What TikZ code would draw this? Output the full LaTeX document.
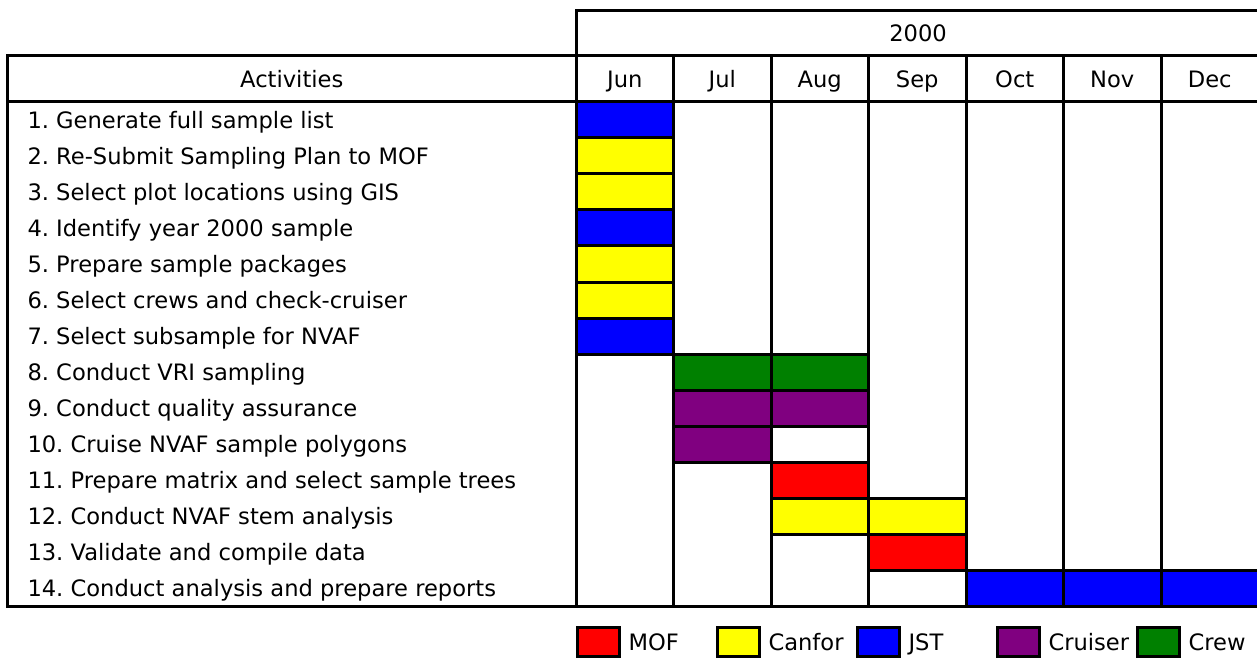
\documentclass[tikz,border=0pt]{standalone}
\usepackage{fontspec}
\setmainfont{DejaVu Sans}
\frenchspacing
\definecolor{cMOF}{RGB}{255,0,0}
\definecolor{cCan}{RGB}{255,255,0}
\definecolor{cJST}{RGB}{0,0,255}
\definecolor{cCru}{RGB}{128,0,128}
\definecolor{cCrew}{RGB}{0,128,0}
\begin{document}
\begin{tikzpicture}[x=1pt,y=-1pt,line width=3pt,
  lbl/.style={font=\fontsize{22.6}{27}\selectfont, inner sep=0pt},
  legbox/.style={draw=black, line width=3pt, minimum width=42.5pt, minimum height=29.5pt, inner sep=0pt}]
\useasboundingbox (0,0) rectangle (1257,660);
\clip (0,0) rectangle (1257,660);
\fill[white] (0,0) rectangle (1257,660);
% column width 97.5, first month column at 576, rows 36 high from 102
\def\cw{97.5}
% --- coloured / bordered cells: row, first col, last col, colour
\foreach \r/\a/\b/\c in {1/0/0/cJST, 2/0/0/cCan, 3/0/0/cCan, 4/0/0/cJST, 5/0/0/cCan, 6/0/0/cCan, 7/0/0/cJST,
  8/1/2/cCrew, 9/1/2/cCru, 10/1/1/cCru, 10/2/2/white, 11/2/2/cMOF, 12/2/3/cCan, 13/3/3/cMOF, 14/3/3/white, 14/4/6/cJST}{
  \foreach \k in {\a,...,\b}{
    \filldraw[fill=\c] ({576+\cw*\k},{102+36*(\r-1)}) rectangle ({576+\cw*(\k+1)},{102+36*\r});
  }
}
% --- grid
\draw (576,11) rectangle (1260,56);
\draw (7.5,56) rectangle (1260,606);
\draw (7.5,102) -- (1260,102);
\foreach \k in {0,...,6}{
  \draw ({576+\cw*\k},56) -- ({576+\cw*\k},606);
}
% --- headers
\node[lbl, anchor=base] (yr) at (918,{33.5+8.2}) {2000};
\node[lbl, anchor=base] (act) at (291.75,{79+8.2}) {Activities};
\foreach \m [count=\i from 0] in {Jun,Jul,Aug,Sep,Oct,Nov,Dec}{
  \node[lbl, anchor=base] (m\i) at ({576+\cw*(\i+0.5)},{79+8.2}) {\m};
}
% --- activities
\foreach \t [count=\i] in {1. Generate full sample list, 2. Re-Submit Sampling Plan to MOF,
  3. Select plot locations using GIS, 4. Identify year 2000 sample, 5. Prepare sample packages,
  6. Select crews and check-cruiser, 7. Select subsample for NVAF, 8. Conduct VRI sampling,
  9. Conduct quality assurance, 10. Cruise NVAF sample polygons,
  11. Prepare matrix and select sample trees, 12. Conduct NVAF stem analysis,
  13. Validate and compile data, 14. Conduct analysis and prepare reports}{
  \node[lbl, anchor=base west] (t\i) at (26,{120+36*(\i-1)+8.2}) {\t};
}
% --- legend
\foreach \c/\t [count=\i from 0] in {cMOF/MOF, cCan/Canfor, cJST/JST, cCru/Cruiser, cCrew/Crew}{
  \node[legbox, fill=\c] (l\i) at ({598.5+140*\i},642) {};
  \node[lbl, anchor=base west] (lt\i) at ({627+140*\i},{642+8.2}) {\t};
}
\end{tikzpicture}
\end{document}
